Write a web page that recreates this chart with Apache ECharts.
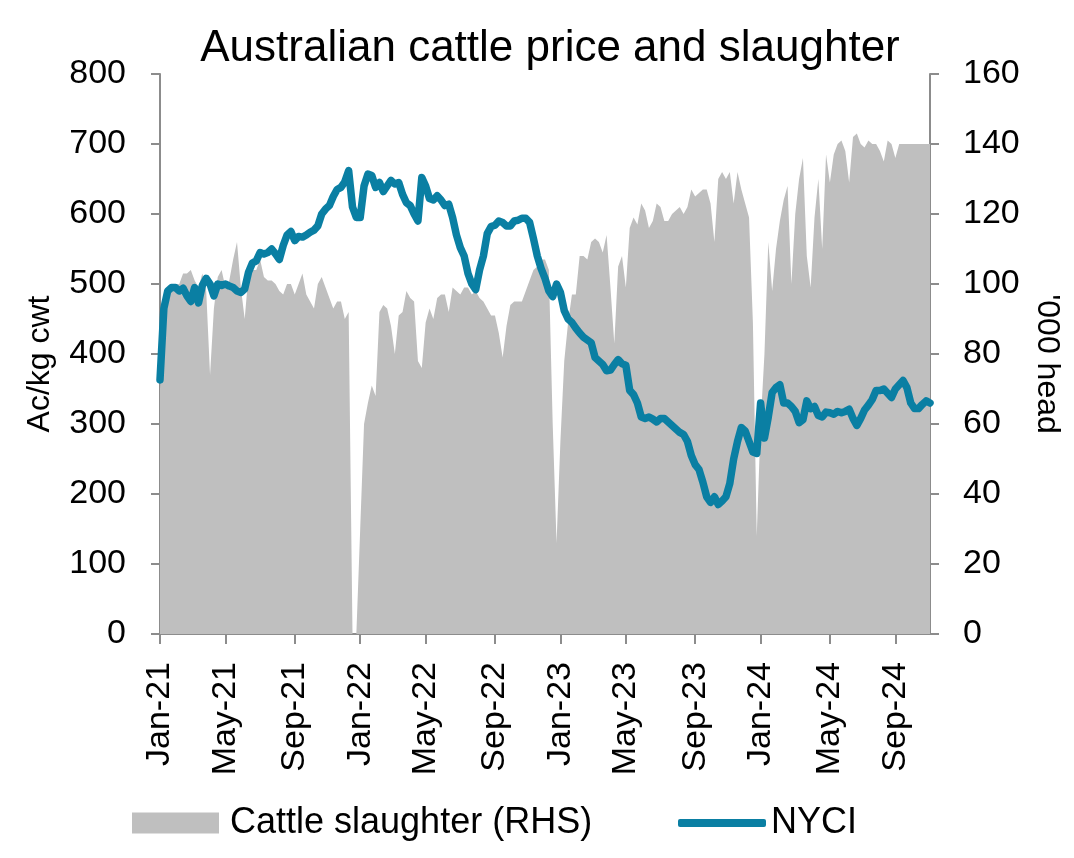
<!DOCTYPE html>
<html>
<head>
<meta charset="utf-8">
<script src="https://cdn.jsdelivr.net/npm/echarts@6/dist/echarts.min.js"></script>
<style>
  html, body { margin: 0; padding: 0; background: #fff; }
  #chart { width: 1074px; height: 858px; }
</style>
</head>
<body>
<div id="chart"></div>
<script>
// weekly series, first week = 1 Jan 2021
const startDate = '2021-01-01'

// NYCI, Ac/kg cwt
const nyci = [
  363, 465, 490, 495, 495, 490, 494, 483, 475, 495, 473, 498, 508, 500, 483, 500, 498, 500, 497, 495,
  490, 488, 493, 517, 530, 533, 545, 543, 545, 550, 543, 535, 555, 570, 575, 562, 568, 567, 570, 574,
  577, 583, 600, 607, 612, 625, 635, 638, 646, 662, 610, 595, 595, 640, 657, 655, 638, 645, 632, 640,
  648, 643, 645, 628, 616, 612, 600, 590, 652, 640, 622, 620, 626, 620, 612, 614, 595, 570, 552, 540,
  515, 500, 492, 520, 540, 572, 582, 584, 590, 588, 583, 583, 590, 591, 594, 594, 588, 565, 540, 522,
  508, 490, 482, 500, 488, 462, 450, 445, 437, 430, 424, 420, 416, 395, 390, 385, 376, 377, 385, 392,
  386, 384, 348, 342, 330, 310, 308, 310, 307, 303, 308, 308, 303, 298, 293, 288, 285, 275, 255, 242,
  235, 217, 196, 188, 196, 185, 190, 196, 215, 250, 275, 295, 290, 275, 260, 258, 330, 280, 310, 345,
  352, 356, 330, 330, 325, 318, 302, 306, 333, 322, 325, 312, 310, 317, 316, 314, 318, 316, 318, 321,
  308, 298, 308, 320, 327, 335, 348, 348, 350, 344, 338, 350, 356, 362, 352, 330, 322, 322, 328, 333,
  330
]

// cattle slaughter, '000 head
const slaughter = [
  70, 90, 99, 99, 100, 100, 103, 103, 104, 101, 99, 103, 98, 74, 93, 102, 104, 99, 101, 107,
  112, 99, 90, 103, 104, 104, 107, 102, 101, 101, 100, 98, 97, 100, 100, 97, 100, 103, 97, 95,
  93, 100, 102, 99, 96, 93, 95, 95, 90, 92, 0, 0, 30, 60, 66, 71, 68, 92, 94, 93,
  88, 80, 91, 92, 98, 96, 95, 78, 76, 89, 93, 90, 96, 97, 97, 92, 99, 98, 97, 99,
  99, 97, 98, 96, 95, 93, 91, 91, 86, 79, 88, 94, 95, 95, 95, 98, 101, 104, 105, 107,
  107, 104, 60, 26, 55, 78, 89, 97, 97, 108, 108, 107, 112, 113, 112, 109, 114, 99, 83, 105,
  108, 99, 116, 119, 117, 123, 121, 116, 118, 123, 122, 118, 118, 120, 121, 122, 120, 122, 127, 125,
  126, 127, 127, 123, 112, 130, 132, 130, 132, 123, 132, 127, 123, 119, 89, 28, 60, 80, 112, 98,
  110, 118, 124, 128, 100, 120, 130, 136, 108, 99, 119, 130, 110, 137, 129, 137, 140, 141, 138, 129,
  142, 143, 140, 139, 141, 140, 140, 138, 135, 141, 140, 136, 140, 140, 140, 140, 140, 140, 140, 140,
  140
]

const tickLabels = ['Jan-21', 'May-21', 'Sep-21', 'Jan-22', 'May-22', 'Sep-22',
  'Jan-23', 'May-23', 'Sep-23', 'Jan-24', 'May-24', 'Sep-24']

const monthNames = ['Jan', 'Feb', 'Mar', 'Apr', 'May', 'Jun', 'Jul', 'Aug', 'Sep', 'Oct', 'Nov', 'Dec']
const t0 = Date.parse(startDate)
const weekMs = 7 * 24 * 3600 * 1000

const dates = nyci.map((v, i) => new Date(t0 + i * weekMs).toISOString().slice(0, 10))

// nearest week to the 1st of each labelled month
const tickAt = {}
tickLabels.forEach((lab) => {
  const m = monthNames.indexOf(lab.slice(0, 3))
  const y = 2000 + Number(lab.slice(4))
  const idx = Math.round((Date.UTC(y, m, 1) - t0) / weekMs)
  tickAt[idx] = lab
})
const showTick = (i) => tickAt[i] !== undefined

const font = 'Liberation Sans, Arial, sans-serif'
const axisGrey = '#8c8c8c'

const chart = echarts.init(document.getElementById('chart'))

const option = {
  animation: false,
  title: {
    text: 'Australian cattle price and slaughter',
    left: 545,
    textAlign: 'center',
    top: 22,
    textStyle: { fontFamily: font, fontSize: 44, fontWeight: 'normal', color: '#000' }
  },
  legend: [
    {
      data: [{ name: 'Cattle slaughter (RHS)', icon: 'rect' }],
      left: 127,
      top: 800,
      itemWidth: 87,
      itemHeight: 21,
      textStyle: { fontFamily: font, fontSize: 36, color: '#000', padding: [0, 0, 0, 6] }
    },
    {
      data: [{ name: 'NYCI', icon: 'roundRect' }],
      left: 673,
      top: 800,
      itemWidth: 88,
      itemHeight: 8,
      textStyle: { fontFamily: font, fontSize: 36, color: '#000' }
    }
  ],
  grid: { left: 160, right: 144, top: 74, bottom: 224 },
  xAxis: {
    type: 'category',
    data: dates,
    boundaryGap: false,
    axisLine: { lineStyle: { color: axisGrey, width: 2 } },
    axisTick: {
      show: true,
      length: 10,
      interval: (i) => showTick(i),
      lineStyle: { color: axisGrey, width: 2 }
    },
    axisLabel: {
      interval: (i) => showTick(i),
      formatter: (v, i) => tickAt[i] || '',
      rotate: 90,
      margin: 28,
      fontFamily: font,
      fontSize: 34,
      color: '#000'
    }
  },
  yAxis: [
    {
      type: 'value',
      min: 0,
      max: 800,
      interval: 100,
      name: 'Ac/kg cwt',
      nameLocation: 'middle',
      nameGap: 104,
      nameTextStyle: { fontFamily: font, fontSize: 32, color: '#000', padding: [0, 20, 0, 0] },
      splitLine: { show: false },
      axisLine: { show: true, lineStyle: { color: axisGrey, width: 2 } },
      axisTick: { show: true, length: 9, lineStyle: { color: axisGrey, width: 2 } },
      axisLabel: { margin: 34, fontFamily: font, fontSize: 34, color: '#000' }
    },
    {
      type: 'value',
      min: 0,
      max: 160,
      interval: 20,
      position: 'right',
      name: "'000 head",
      nameLocation: 'middle',
      nameRotate: -90,
      nameGap: 93,
      nameTextStyle: { fontFamily: font, fontSize: 32, color: '#000', padding: [0, 0, 0, 20] },
      splitLine: { show: false },
      axisLine: { show: true, lineStyle: { color: axisGrey, width: 2 } },
      axisTick: { show: true, length: 9, lineStyle: { color: axisGrey, width: 2 } },
      axisLabel: { margin: 33, fontFamily: font, fontSize: 34, color: '#000' }
    }
  ],
  series: [
    {
      name: 'Cattle slaughter (RHS)',
      type: 'line',
      yAxisIndex: 1,
      data: slaughter,
      showSymbol: false,
      itemStyle: { color: '#bfbfbf' },
      lineStyle: { width: 0 },
      areaStyle: { color: '#bfbfbf', opacity: 1 },
      z: 1
    },
    {
      name: 'NYCI',
      type: 'line',
      yAxisIndex: 0,
      data: nyci,
      showSymbol: false,
      itemStyle: { color: '#0a7fa3' },
      lineStyle: { color: '#0a7fa3', width: 7.5, join: 'round', cap: 'round' },
      z: 3
    }
  ]
}

chart.setOption(option)
</script>
</body>
</html>
